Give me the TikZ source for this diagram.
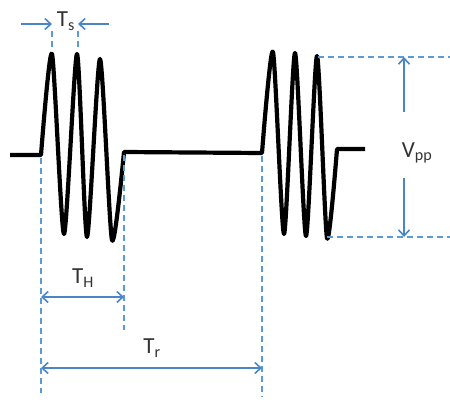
\documentclass[tikz,border=0pt]{standalone}
\usepackage{fontspec}
\setmainfont{Carlito}
\usepackage{tikz}
\usetikzlibrary{arrows.meta}
\definecolor{PulsoAzul}{HTML}{4A86C5}
\definecolor{PulsoGuia}{HTML}{5B9BD5}

\begin{document}
\begin{tikzpicture}[x=1pt,y=-1pt,font=\fontsize{23}{26}\selectfont,>={Straight Barb[length=6pt,width=11pt]},
 onda/.style={draw=black,line width=4.2pt,line join=round},
 guia/.style={draw=PulsoGuia,line width=1.3pt,dash pattern=on 6pt off 4pt},
 cota/.style={draw=PulsoAzul,line width=1.6pt},
 rotulo/.style={text=black!80,inner sep=1pt}]
\useasboundingbox (0,0) rectangle (450,402);
% senal
\draw[onda] (10,155) -- (41,155) -- plot[smooth,tension=0.4] coordinates {(41,155) (52,54) (64,234) (77,54) (87,237) (100,59) (112,240) (124,152)}
 -- (262,153) -- plot[smooth,tension=0.4] coordinates {(262,153) (273,52) (284,234) (295,53) (306,236) (317,56) (327,238) (337,149)} -- (365,149);
% guias
\coordinate (h0) at (41,158);\coordinate (h1) at (124,155);\coordinate (r1) at (262,156);
\draw[guia] (h0) -- (41,393);\draw[guia] (h1) -- (124,330);\draw[guia] (r1) -- (262,397);
\draw[guia] (52,31) -- (52,50);\draw[guia] (78,31) -- (78,50);
\draw[guia] (318,57) -- (450,57);\draw[guia] (327,237) -- (450,237);
% cotas
\node[rotulo] (ts) at (66,21) {T\textsubscript{s}};
\node[rotulo] (th) at (83,278) {T\textsubscript{H}};
\node[rotulo] (tr) at (152,348) {T\textsubscript{r}};
\node[rotulo] (vpp) at (417,153) {V\textsubscript{pp}};
\coordinate (tsa) at (52,24);\coordinate (tsb) at (78,24);
\draw[cota,->] (21,24) -- (tsa);\draw[cota,->] (109,24) -- (tsb);
\draw[cota,<->] (41,297) -- (124,297);
\draw[cota,<->] (41,368) -- (262,368);
\coordinate (vt) at (404,57);\coordinate (vb) at (404,237);
\draw[cota,->] (404,112) -- (vt);\draw[cota,->] (404,178) -- (vb);
\end{tikzpicture}
\end{document}
